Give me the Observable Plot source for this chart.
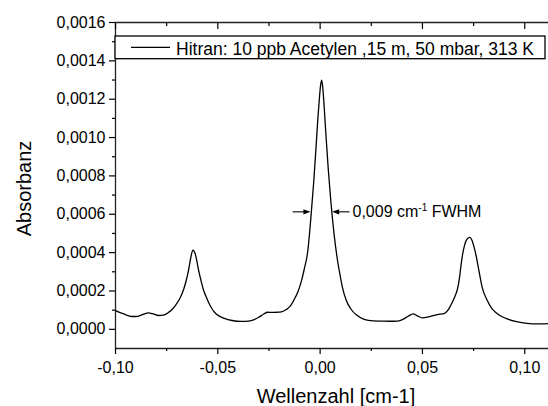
<!DOCTYPE html>
<html><head><meta charset="utf-8">
<script src="https://cdn.jsdelivr.net/npm/d3@7"></script>
<script src="https://cdn.jsdelivr.net/npm/@observablehq/plot@0.6"></script>
<style>body{margin:0;background:#fff}</style>
</head><body><div id="chart"></div>
<script>
// ---- data ----
const wavenumber = [
-0.1000,-0.0960,-0.0920,-0.0890,-0.0865,-0.0840,-0.0815,-0.0790,-0.0765,-0.0745,
-0.0725,-0.0705,-0.0685,-0.0668,-0.0655,-0.0645,-0.0637,-0.0630,-0.0622,-0.0614,
-0.0606,-0.0598,-0.0590,-0.0580,-0.0570,-0.0558,-0.0545,-0.0530,-0.0515,-0.0495,
-0.0468,-0.0430,-0.0387,-0.0350,-0.0322,-0.0298,-0.0275,-0.0257,-0.0235,-0.0210,
-0.0190,-0.0165,-0.0145,-0.0127,-0.0110,-0.0094,-0.0078,-0.0060,-0.0045,-0.0032,
-0.0021,-0.0011,-0.0004,0.0002,0.0007,0.0012,0.0018,0.0028,0.0039,0.0052,
0.0068,0.0085,0.0097,0.0109,0.0128,0.0150,0.0180,0.0215,0.0260,0.0300,
0.0340,0.0378,0.0405,0.0430,0.0455,0.0475,0.0500,0.0530,0.0573,0.0605,
0.0625,0.0638,0.0650,0.0660,0.0670,0.0680,0.0688,0.0696,0.0705,0.0716,
0.0730,0.0742,0.0752,0.0762,0.0776,0.0792,0.0817,0.0837,0.0857,0.0885,
0.0914,0.0960,0.1012,0.1060,0.1116];
const absorbance = [
0.000098,0.000080,0.000067,0.000068,0.000078,0.000086,0.000080,0.000072,0.000074,0.000085,
0.000102,0.000128,0.000162,0.000205,0.000252,0.000298,0.000345,0.000385,0.000413,0.000403,
0.000375,0.000330,0.000289,0.000245,0.000205,0.000172,0.000140,0.000110,0.000088,0.000070,
0.000057,0.000046,0.000041,0.000043,0.000051,0.000064,0.000080,0.000089,0.000088,0.000089,
0.000091,0.000103,0.000122,0.000155,0.000192,0.000242,0.000312,0.000411,0.000585,0.000759,
0.000933,0.001100,0.001200,0.001270,0.001300,0.001270,0.001190,0.001020,0.000846,0.000672,
0.000498,0.000359,0.000285,0.000219,0.000150,0.000106,0.000073,0.000052,0.000044,0.000043,
0.000042,0.000043,0.000052,0.000068,0.000081,0.000070,0.000060,0.000065,0.000077,0.000082,
0.000100,0.000124,0.000150,0.000175,0.000205,0.000260,0.000330,0.000390,0.000435,0.000468,
0.000480,0.000465,0.000430,0.000385,0.000306,0.000219,0.000150,0.000112,0.000089,0.000068,
0.000054,0.000040,0.000031,0.000028,0.000030];

const xTicks = [-0.10, -0.05, 0.00, 0.05, 0.10];
const xMinorTicks = [-0.075, -0.025, 0.025, 0.075];
const yTicks = [0, 0.0002, 0.0004, 0.0006, 0.0008, 0.0010, 0.0012, 0.0014, 0.0016];
const yMinorTicks = [0.0001, 0.0003, 0.0005, 0.0007, 0.0009, 0.0011, 0.0013, 0.0015];
const xDomain = [-0.10, 0.1116];
const yDomain = [-0.0001, 0.0016];
const xLabel = "Wellenzahl [cm-1]";
const yLabel = "Absorbanz";
const legendLabel = "Hitran: 10 ppb Acetylen ,15 m, 50 mbar, 313 K";
const fwhmLevel = 0.00061;
const fwhmArrowLeft = [-0.0132, -0.0045];
const fwhmArrowRight = [0.0146, 0.0061];
const fwhmText = ["0,009 cm", "-1", " FWHM"];

const data = wavenumber.map((x, i) => ({x, y: absorbance[i]}));
const fmtX = d => d.toFixed(2).replace(".", ",");
const fmtY = d => d.toFixed(4).replace(".", ",");
const font = "'Liberation Sans', Arial, sans-serif";

const plot = Plot.plot({
  width: 548, height: 406,
  marginLeft: 115, marginRight: 0, marginTop: 22, marginBottom: 58,
  style: {fontFamily: font, background: "white", color: "#000", overflow: "visible"},
  x: {domain: xDomain},
  y: {domain: yDomain},
  marks: [
    Plot.ruleX([xDomain[0]], {stroke: "#222", strokeWidth: 1.3}),
    Plot.ruleY([yDomain[0]], {stroke: "#222", strokeWidth: 1.3}),
    Plot.ruleY([yDomain[1]], {stroke: "#222", strokeWidth: 1.3}),
    Plot.axisX(xTicks, {anchor: "bottom", tickSize: 6, tickPadding: 7, tickFormat: fmtX, fontSize: 16, label: null, strokeWidth: 1.2}),
    Plot.axisX(xMinorTicks, {anchor: "bottom", tickSize: 3, fill: "none", label: null, strokeWidth: 1.2}),
    Plot.axisX(xTicks, {anchor: "top", tickSize: 6, dy: 6, fill: "none", label: null, strokeWidth: 1.2}),
    Plot.axisX(xMinorTicks, {anchor: "top", tickSize: 3, dy: 3, fill: "none", label: null, strokeWidth: 1.2}),
    Plot.axisY(yTicks, {anchor: "left", tickSize: 6, tickPadding: 4, tickFormat: fmtY, fontSize: 16, label: null, strokeWidth: 1.2}),
    Plot.axisY(yMinorTicks, {anchor: "left", tickSize: 3, fill: "none", label: null, strokeWidth: 1.2}),
    Plot.line(data, {x: "x", y: "y", stroke: "#000", strokeWidth: 1.3, curve: "monotone-x"}),
    Plot.text([xLabel], {frameAnchor: "bottom", dx: 4, dy: 48, fontSize: 20, lineAnchor: "middle", textAnchor: "middle"}),
    Plot.text([yLabel], {frameAnchor: "left", dx: -91, dy: 3, rotate: -90, fontSize: 20, lineAnchor: "middle", textAnchor: "middle"})
  ]
});
document.getElementById("chart").appendChild(plot);

// legend and annotation drawn with the plot's own scales
const sx = plot.scale("x"), sy = plot.scale("y");
const svg = d3.select(plot);
const g = svg.append("g").attr("font-family", font).attr("text-anchor", "start");
// legend box
g.append("rect").attr("x", 115).attr("y", 36).attr("width", 430).attr("height", 22.7)
  .attr("fill", "white").attr("stroke", "#000").attr("stroke-width", 1.3);
g.append("line").attr("x1", 131).attr("x2", 170).attr("y1", 47.3).attr("y2", 47.3)
  .attr("stroke", "#000").attr("stroke-width", 1.3);
g.append("text").attr("x", 176).attr("y", 54.5).attr("font-size", 17.5).text(legendLabel);

// FWHM arrows
const ay = sy.apply(fwhmLevel);
function arrow(x0, x1) {
  const px0 = sx.apply(x0), px1 = sx.apply(x1);
  const dir = Math.sign(px1 - px0);
  g.append("line").attr("x1", px0).attr("x2", px1 - dir * 5).attr("y1", ay).attr("y2", ay)
    .attr("stroke", "#000").attr("stroke-width", 1.1);
  g.append("path").attr("d", `M${px1},${ay}L${px1 - dir * 7},${ay - 2.6}L${px1 - dir * 7},${ay + 2.6}Z`)
    .attr("fill", "#000");
}
arrow(fwhmArrowLeft[0], fwhmArrowLeft[1]);
arrow(fwhmArrowRight[0], fwhmArrowRight[1]);
const t = g.append("text").attr("x", sx.apply(fwhmArrowRight[0]) + 3).attr("y", ay + 5.3).attr("font-size", 16);
t.append("tspan").text(fwhmText[0]);
t.append("tspan").attr("font-size", 10).attr("dy", -6).text(fwhmText[1]);
t.append("tspan").attr("dy", 6).text(fwhmText[2]);
</script>
</body></html>
